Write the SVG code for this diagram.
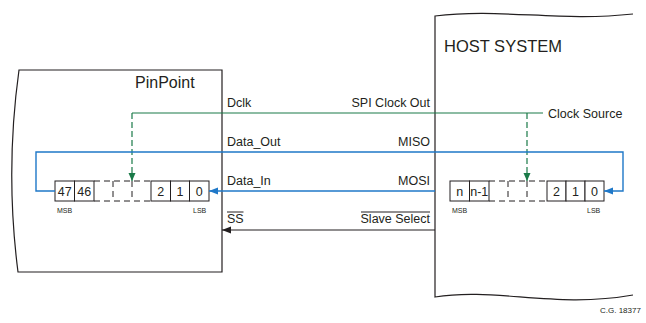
<svg xmlns="http://www.w3.org/2000/svg" width="646" height="323" viewBox="0 0 646 323">
<style>
text{font-family:"Liberation Sans",Arial,sans-serif;fill:#231f20}
.lbl{font-size:12.5px}
.cell{font-size:12.5px;text-anchor:middle}
.sm{font-size:7px}
.box{fill:none;stroke:#231f20;stroke-width:1.2}
.reg{fill:#fff;stroke:#231f20;stroke-width:1}
.dash{fill:none;stroke:#231f20;stroke-width:1;stroke-dasharray:6,4}
.grn{fill:none;stroke:#1a7a48;stroke-width:1.2}
.grnd{fill:none;stroke:#1a7a48;stroke-width:1.2;stroke-dasharray:6,3}
.blu{fill:none;stroke:#1f78c8;stroke-width:1.4}
.blk{fill:none;stroke:#231f20;stroke-width:1.2}
</style>
<defs>
<marker id="ag" markerWidth="8" markerHeight="8" refX="8" refY="4" orient="auto" markerUnits="userSpaceOnUse"><path d="M0,0.5 L8,4 L0,7.5 Z" fill="#1a7a48"/></marker>
<marker id="ab" markerWidth="9" markerHeight="8" refX="9" refY="4" orient="auto" markerUnits="userSpaceOnUse"><path d="M0,0.5 L9,4 L0,7.5 Z" fill="#1f78c8"/></marker>
<marker id="ak" markerWidth="9" markerHeight="8" refX="9" refY="4" orient="auto" markerUnits="userSpaceOnUse"><path d="M0,0.5 L9,4 L0,7.5 Z" fill="#231f20"/></marker>
</defs>

<g id="pinpoint">
<path class="box" d="M222,70 L19,70 Q5,171 18,272 L222,272 Z"/>
<text x="135" y="88" style="font-size:16px">PinPoint</text>
</g>

<g id="host">
<path class="box" d="M633,14 C560,22 500,8 435,16 L435,297 C495,287 555,309 633,295"/>
<text x="444" y="52" style="font-size:16.5px">HOST SYSTEM</text>
</g>

<g id="pinpoint-register">
<rect class="reg" x="55" y="181" width="19.5" height="20"/>
<rect class="reg" x="74.5" y="181" width="19.5" height="20"/>
<path class="dash" d="M94,181 H151 M94,201 H151 M113,181 V201 M132,181 V201"/>
<rect class="reg" x="151" y="181" width="19.5" height="20"/>
<rect class="reg" x="170.5" y="181" width="19" height="20"/>
<rect class="reg" x="189.5" y="181" width="19.5" height="20"/>
<text class="cell" x="64.8" y="196">47</text>
<text class="cell" x="84.3" y="196">46</text>
<text class="cell" x="160.8" y="196">2</text>
<text class="cell" x="180" y="196">1</text>
<text class="cell" x="199.3" y="196">0</text>
<text class="sm" x="57" y="213">MSB</text>
<text class="sm" x="193" y="213">LSB</text>
</g>

<g id="host-register">
<rect class="reg" x="450" y="181" width="19.5" height="20"/>
<rect class="reg" x="469.5" y="181" width="19.5" height="20"/>
<path class="dash" d="M489,181 H547 M489,201 H547 M508,181 V201 M527,181 V201"/>
<rect class="reg" x="547" y="181" width="19" height="20"/>
<rect class="reg" x="566" y="181" width="19" height="20"/>
<rect class="reg" x="585" y="181" width="19" height="20"/>
<text class="cell" x="459.8" y="196">n</text>
<text class="cell" x="479.3" y="196">n-1</text>
<text class="cell" x="556.5" y="196">2</text>
<text class="cell" x="575.5" y="196">1</text>
<text class="cell" x="594.5" y="196">0</text>
<text class="sm" x="452" y="213">MSB</text>
<text class="sm" x="587" y="213">LSB</text>
</g>

<g id="connectors">
<path class="grn" d="M132,113 H543"/>
<path class="grnd" d="M132,113 V181" marker-end="url(#ag)"/>
<path class="grnd" d="M527,113 V181" marker-end="url(#ag)"/>
<path class="blu" d="M55,191 H36 V152 H623 V191 H604" marker-end="url(#ab)"/>
<path class="blu" d="M435,191 H209" marker-end="url(#ab)"/>
<path class="blk" d="M435,230 H222" marker-end="url(#ak)"/>
</g>

<g id="labels">
<text class="lbl" x="227" y="107">Dclk</text>
<text class="lbl" x="430" y="107" text-anchor="end">SPI Clock Out</text>
<text class="lbl" x="227" y="146">Data_Out</text>
<text class="lbl" x="430" y="146" text-anchor="end">MISO</text>
<text class="lbl" x="227" y="185">Data_In</text>
<text class="lbl" x="430" y="185" text-anchor="end">MOSI</text>
<text class="lbl" x="227" y="223">SS</text>
<path d="M227,212 H243.5 M361,212 H430" stroke="#231f20" stroke-width="1"/>
<text class="lbl" x="430" y="223" text-anchor="end">Slave Select</text>
<text class="lbl" x="548" y="118">Clock Source</text>
<text x="600" y="313" style="font-size:8px">C.G. 18377</text>
</g>
</svg>
